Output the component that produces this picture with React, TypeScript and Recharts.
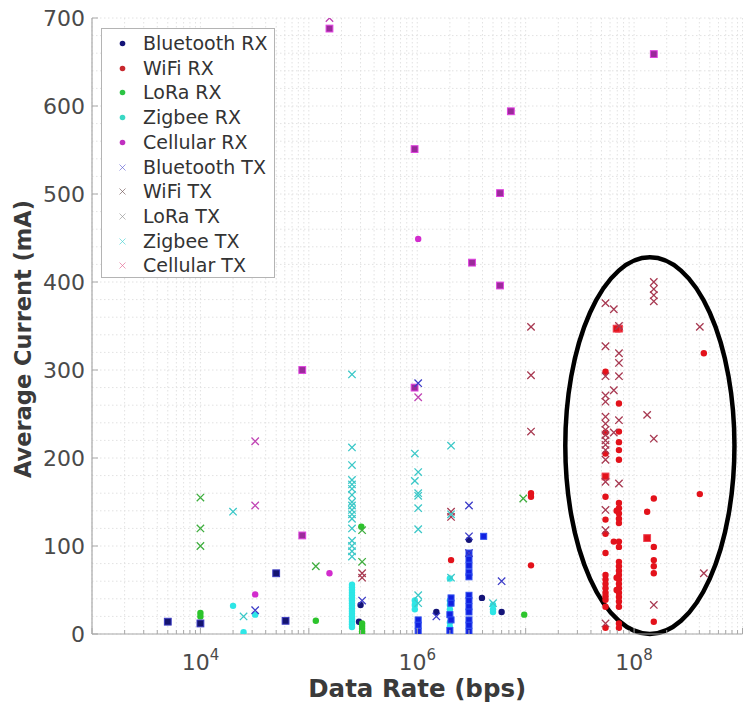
import React from 'react';
import { ScatterChart, Scatter, XAxis, YAxis, CartesianGrid, Legend, ReferenceArea } from 'recharts';

// ---------- axis values ----------
const xDecades = [3, 4, 5, 6, 7, 8];
const xMultipliers = [1, 2, 3, 4, 5, 6, 7, 8, 9];
const xLabeledTicks = [1e4, 1e6, 1e8];
const xDomain = [1e3, 1e9];
const yMajorTicks = [0, 100, 200, 300, 400, 500, 600, 700];
const yGridStep = 20;

// ---------- series (data rate in bps, average current in mA) ----------
const bluetoothRxDots = [
  { rate: 3e5, current: 33 }, { rate: 2.9e5, current: 14 }, { rate: 1.5e6, current: 25 },
  { rate: 6e6, current: 25 }, { rate: 3.95e6, current: 41 }, { rate: 3e6, current: 107 },
];
const bluetoothRxSquares = [
  { rate: 5e3, current: 14 }, { rate: 1e4, current: 12 }, { rate: 5e4, current: 69 }, { rate: 6.1e4, current: 15 },
];
const bluetoothRxBright = [
  { rate: 3e6, current: 92 }, { rate: 3e6, current: 85 }, { rate: 3e6, current: 78 }, { rate: 3e6, current: 70 },
  { rate: 3e6, current: 65 }, { rate: 3e6, current: 44 }, { rate: 3e6, current: 38 }, { rate: 3e6, current: 31 },
  { rate: 3e6, current: 25 }, { rate: 3e6, current: 16 }, { rate: 3e6, current: 10 }, { rate: 3e6, current: 3 },
  { rate: 2.05e6, current: 41 }, { rate: 2.05e6, current: 35 }, { rate: 2e6, current: 22 }, { rate: 2.05e6, current: 16 },
  { rate: 2e6, current: 4 }, { rate: 1.02e6, current: 16 }, { rate: 1.02e6, current: 10 }, { rate: 1.02e6, current: 3 },
  { rate: 4.1e6, current: 111 },
];
const wifiRx = [
  { rate: 2.05e6, current: 84 }, { rate: 1.12e7, current: 160 }, { rate: 1.12e7, current: 156 }, { rate: 1.12e7, current: 78 },
  { rate: 5.45e7, current: 298 }, { rate: 5.45e7, current: 156 }, { rate: 5.45e7, current: 130 }, { rate: 5.45e7, current: 92 },
  { rate: 5.45e7, current: 67 }, { rate: 5.45e7, current: 62 }, { rate: 5.45e7, current: 57 }, { rate: 5.45e7, current: 52 },
  { rate: 5.45e7, current: 47 }, { rate: 5.45e7, current: 43 }, { rate: 5.45e7, current: 39 }, { rate: 5.45e7, current: 31 },
  { rate: 5.45e7, current: 7 }, { rate: 5.45e7, current: 229 }, { rate: 5.45e7, current: 205 }, { rate: 5.45e7, current: 114 },
  { rate: 7.25e7, current: 262 }, { rate: 7.25e7, current: 230 }, { rate: 7.25e7, current: 218 }, { rate: 7.25e7, current: 209 },
  { rate: 7.25e7, current: 198 }, { rate: 7.25e7, current: 149 }, { rate: 7.25e7, current: 143 }, { rate: 7.25e7, current: 137 },
  { rate: 7.25e7, current: 131 }, { rate: 7.25e7, current: 126 }, { rate: 7.25e7, current: 105 }, { rate: 7.25e7, current: 99 },
  { rate: 7.25e7, current: 82 }, { rate: 7.25e7, current: 77 }, { rate: 7.25e7, current: 72 }, { rate: 7.25e7, current: 67 },
  { rate: 7.25e7, current: 62 }, { rate: 7.25e7, current: 57 }, { rate: 7.25e7, current: 52 }, { rate: 7.25e7, current: 47 },
  { rate: 7.25e7, current: 42 }, { rate: 7.25e7, current: 37 }, { rate: 7.25e7, current: 31 }, { rate: 7.25e7, current: 12 },
  { rate: 7.25e7, current: 7 }, { rate: 6.5e7, current: 105 }, { rate: 6.9e7, current: 64 }, { rate: 6.9e7, current: 50 },
  { rate: 6.9e7, current: 140 }, { rate: 1.32e8, current: 139 },
  { rate: 1.52e8, current: 154 }, { rate: 1.52e8, current: 99 }, { rate: 1.52e8, current: 84 }, { rate: 1.52e8, current: 77 },
  { rate: 1.52e8, current: 69 }, { rate: 1.52e8, current: 14 }, { rate: 4.04e8, current: 159 }, { rate: 4.4e8, current: 319 },
];
const wifiRxSquares = [
  { rate: 5.45e7, current: 179 }, { rate: 7.25e7, current: 347 }, { rate: 6.9e7, current: 347 }, { rate: 1.32e8, current: 109 },
];
const loraRx = [
  { rate: 1e4, current: 24 }, { rate: 1e4, current: 20 }, { rate: 1.16e5, current: 15 }, { rate: 3.05e5, current: 122 },
  { rate: 3.1e5, current: 12 }, { rate: 3.1e5, current: 9 }, { rate: 3.1e5, current: 6 }, { rate: 3.1e5, current: 3 },
  { rate: 3.1e5, current: 1 }, { rate: 9.7e6, current: 22 },
];
const zigbeeRx = [
  { rate: 2e4, current: 32 }, { rate: 2.5e4, current: 2 }, { rate: 3.2e4, current: 22 },
  { rate: 2.5e5, current: 56 }, { rate: 2.5e5, current: 53 }, { rate: 2.5e5, current: 50 }, { rate: 2.5e5, current: 47 },
  { rate: 2.5e5, current: 44 }, { rate: 2.5e5, current: 41 }, { rate: 2.5e5, current: 38 }, { rate: 2.5e5, current: 35 },
  { rate: 2.5e5, current: 32 }, { rate: 2.5e5, current: 29 }, { rate: 2.5e5, current: 26 }, { rate: 2.5e5, current: 23 },
  { rate: 2.5e5, current: 20 }, { rate: 2.5e5, current: 17 }, { rate: 2.5e5, current: 14 }, { rate: 2.5e5, current: 11 },
  { rate: 2.5e5, current: 8 }, { rate: 9.5e5, current: 38 }, { rate: 9.5e5, current: 33 }, { rate: 9.5e5, current: 28 },
  { rate: 2e6, current: 63 }, { rate: 2e6, current: 38 }, { rate: 2e6, current: 33 }, { rate: 2e6, current: 28 },
  { rate: 2e6, current: 13 }, { rate: 2e6, current: 8 }, { rate: 5e6, current: 33 }, { rate: 5e6, current: 28 },
  { rate: 5e6, current: 25 },
];
const cellularRxDots = [
  { rate: 1.02e6, current: 449 }, { rate: 3.2e4, current: 45 }, { rate: 1.55e5, current: 69 },
];
const cellularRxSquares = [
  { rate: 1.55e5, current: 688 }, { rate: 8.7e4, current: 300 }, { rate: 8.7e4, current: 112 }, { rate: 9.45e5, current: 280 },
  { rate: 9.45e5, current: 551 }, { rate: 7.3e6, current: 594 }, { rate: 5.8e6, current: 501 }, { rate: 3.2e6, current: 422 },
  { rate: 5.8e6, current: 396 }, { rate: 1.52e8, current: 659 },
];
const bluetoothTx = [
  { rate: 1.02e6, current: 285 }, { rate: 3e6, current: 146 }, { rate: 6e6, current: 60 }, { rate: 1.5e6, current: 20 },
  { rate: 3e6, current: 111 }, { rate: 3e6, current: 92 }, { rate: 3.2e4, current: 27 }, { rate: 3.1e5, current: 38 },
];
const wifiTx = [
  { rate: 3.1e5, current: 69 }, { rate: 3.1e5, current: 64 }, { rate: 2.05e6, current: 139 }, { rate: 2.05e6, current: 133 },
  { rate: 1.12e7, current: 349 }, { rate: 1.12e7, current: 294 }, { rate: 1.12e7, current: 230 },
  { rate: 5.45e7, current: 376 }, { rate: 5.45e7, current: 327 }, { rate: 5.45e7, current: 293 }, { rate: 5.45e7, current: 271 },
  { rate: 5.45e7, current: 264 }, { rate: 5.45e7, current: 247 }, { rate: 5.45e7, current: 239 }, { rate: 5.45e7, current: 232 },
  { rate: 5.45e7, current: 226 }, { rate: 5.45e7, current: 220 }, { rate: 5.45e7, current: 215 }, { rate: 5.45e7, current: 209 },
  { rate: 5.45e7, current: 198 }, { rate: 5.45e7, current: 173 }, { rate: 5.45e7, current: 141 }, { rate: 5.45e7, current: 118 },
  { rate: 5.45e7, current: 12 }, { rate: 6.5e7, current: 369 }, { rate: 6.5e7, current: 277 }, { rate: 6.5e7, current: 229 },
  { rate: 7.25e7, current: 350 }, { rate: 7.25e7, current: 319 }, { rate: 7.25e7, current: 308 }, { rate: 7.25e7, current: 293 },
  { rate: 7.25e7, current: 243 }, { rate: 7.25e7, current: 171 }, { rate: 1.32e8, current: 249 },
  { rate: 1.52e8, current: 400 }, { rate: 1.52e8, current: 392 }, { rate: 1.52e8, current: 385 }, { rate: 1.52e8, current: 378 },
  { rate: 1.52e8, current: 222 }, { rate: 1.52e8, current: 33 }, { rate: 4.04e8, current: 349 }, { rate: 4.4e8, current: 69 },
];
const loraTx = [
  { rate: 1e4, current: 155 }, { rate: 1e4, current: 120 }, { rate: 1e4, current: 100 }, { rate: 1.16e5, current: 77 },
  { rate: 3.1e5, current: 118 }, { rate: 3.1e5, current: 82 }, { rate: 9.5e6, current: 154 },
];
const zigbeeTx = [
  { rate: 2e4, current: 139 }, { rate: 2.5e4, current: 20 },
  { rate: 2.5e5, current: 295 }, { rate: 2.5e5, current: 212 }, { rate: 2.5e5, current: 192 }, { rate: 2.5e5, current: 175 },
  { rate: 2.5e5, current: 170 }, { rate: 2.5e5, current: 165 }, { rate: 2.5e5, current: 158 }, { rate: 2.5e5, current: 150 },
  { rate: 2.5e5, current: 146 }, { rate: 2.5e5, current: 141 }, { rate: 2.5e5, current: 136 }, { rate: 2.5e5, current: 131 },
  { rate: 2.5e5, current: 120 }, { rate: 2.5e5, current: 106 }, { rate: 2.5e5, current: 100 }, { rate: 2.5e5, current: 94 },
  { rate: 2.5e5, current: 88 }, { rate: 9.5e5, current: 205 }, { rate: 9.5e5, current: 174 }, { rate: 1.02e6, current: 184 },
  { rate: 1.02e6, current: 160 }, { rate: 1.02e6, current: 157 }, { rate: 1.02e6, current: 143 }, { rate: 1.02e6, current: 119 },
  { rate: 1.02e6, current: 44 }, { rate: 1.02e6, current: 35 }, { rate: 2.05e6, current: 214 }, { rate: 2.05e6, current: 136 },
  { rate: 2.05e6, current: 64 }, { rate: 5e6, current: 35 },
];
const cellularTx = [
  { rate: 1.55e5, current: 700 }, { rate: 3.2e4, current: 219 }, { rate: 3.2e4, current: 146 }, { rate: 1.02e6, current: 269 },
];

// highlighted region (data rate / current bounds)
const highlightRate = [2.32e7, 8.43e8];
const highlightCurrent = [0, 428];

const legendOrder = [
  'Bluetooth RX', 'WiFi RX', 'LoRa RX', 'Zigbee RX', 'Cellular RX',
  'Bluetooth TX', 'WiFi TX', 'LoRa TX', 'Zigbee TX', 'Cellular TX',
];

// ---------- derived tick arrays ----------
const xAllTicks: number[] = [];
xDecades.forEach((d) => xMultipliers.forEach((m) => xAllTicks.push(m * Math.pow(10, d))));
xAllTicks.push(1e9);
const yAllTicks: number[] = [];
for (let v = 0; v <= 700; v += yGridStep) yAllTicks.push(v);

// ---------- styles ----------
const FONT = '"DejaVu Sans", Verdana, sans-serif';
const AXIS_COLOR = '#a8a8a8';
const TEXT_COLOR = '#4a4a4a';

const dot = (color: string, r = 3.2) => (p: any) =>
  p.cx == null ? <g /> : <circle cx={p.cx} cy={p.cy} r={r} fill={color} />;
const square = (fill: string, edge: string, s = 3.4) => (p: any) =>
  p.cx == null ? <g /> : (
    <rect x={p.cx - s} y={p.cy - s} width={2 * s} height={2 * s} fill={fill} stroke={edge} strokeWidth={1} />
  );
const xMark = (color: string, s = 3.7) => (p: any) =>
  p.cx == null ? <g /> : (
    <path
      d={`M${p.cx - s},${p.cy - s}L${p.cx + s},${p.cy + s}M${p.cx - s},${p.cy + s}L${p.cx + s},${p.cy - s}`}
      stroke={color}
      strokeWidth={1.3}
      fill="none"
    />
  );

const XTick = (props: any) => {
  const { x, y, payload } = props;
  const v = payload.value as number;
  const lg = Math.log10(v);
  const exp = Math.round(lg);
  const isDecade = Math.abs(lg - exp) < 1e-6;
  const labeled = xLabeledTicks.some((t) => Math.abs(t - v) / t < 1e-6);
  return (
    <g>
      <line x1={x} x2={x} y1={y} y2={y - (isDecade ? 6 : 4)} stroke={AXIS_COLOR} strokeWidth={1} />
      {labeled && (
        <text x={x} y={y + 36} textAnchor="middle" fontSize={22} fill={TEXT_COLOR} fontFamily={FONT}>
          10
          <tspan dy={-10} fontSize={15}>{exp}</tspan>
        </text>
      )}
    </g>
  );
};

const YTick = (props: any) => {
  const { x, y, payload } = props;
  const v = payload.value as number;
  if (!yMajorTicks.includes(v)) return <g />;
  return (
    <g>
      <line x1={x} x2={x + 6} y1={y} y2={y} stroke={AXIS_COLOR} strokeWidth={1} />
      <text x={x - 7} y={y} textAnchor="end" dominantBaseline="central" fontSize={22} fill={TEXT_COLOR} fontFamily={FONT}>
        {v}
      </text>
    </g>
  );
};

const EllipseShape = (p: any) => (
  <ellipse
    cx={p.x + p.width / 2}
    cy={p.y + p.height / 2}
    rx={p.width / 2}
    ry={p.height / 2}
    fill="none"
    stroke="#000"
    strokeWidth={4.5}
  />
);

const LegendContent = (props: any) => {
  const payload = props.payload || [];
  const items = legendOrder
    .map((n) => payload.find((p: any) => p.value === n))
    .filter(Boolean);
  return (
    <div
      style={{
        width: 174,
        height: 250,
        border: '1px solid #b4b4b4',
        background: '#fff',
        boxSizing: 'border-box',
        position: 'relative',
        fontFamily: FONT,
      }}
    >
      {items.map((it: any, i: number) => {
        const isTx = String(it.value).endsWith('TX');
        const c = it.color;
        return (
          <div
            key={it.value}
            style={{
              position: 'absolute',
              left: 0,
              top: 2 + i * 24.7,
              height: 24,
              display: 'flex',
              alignItems: 'center',
              whiteSpace: 'nowrap',
            }}
          >
            <svg width={41} height={24} style={{ display: 'block' }}>
              {isTx ? (
                <path d="M17.5,9.5L23.5,15.5M17.5,15.5L23.5,9.5" stroke={c} strokeWidth={0.9} opacity={0.7} fill="none" />
              ) : (
                <circle cx={20.5} cy={12.5} r={2.8} fill={c} />
              )}
            </svg>
            <span style={{ fontSize: 19, color: '#333', lineHeight: '24px' }}>{it.value}</span>
          </div>
        );
      })}
    </div>
  );
};

const YLabel = (props: any) => {
  const cy = 339;
  return (
    <text
      x={31}
      y={cy}
      transform={`rotate(-90, 31, ${cy})`}
      textAnchor="middle"
      fontSize={22.5}
      fontWeight="bold"
      fill="#3a3a3a"
      fontFamily={FONT}
    >
      Average Current (mA)
    </text>
  );
};

const XLabel = (props: any) => {
  const vb = props.viewBox || { x: 0, y: 0, width: 0, height: 0 };
  const cx = vb.x + vb.width / 2;
  return (
    <text x={cx} y={697} textAnchor="middle" fontSize={24.5} fontWeight="bold" fill="#3a3a3a" fontFamily={FONT}>
      Data Rate (bps)
    </text>
  );
};

export default function App() {
  return (
    <div style={{ position: 'absolute', left: 0, top: 0, width: 743, height: 706, background: '#fff' }}>
      <ScatterChart
        width={743}
        height={706}
        margin={{ top: 18, right: 0.5, bottom: 0, left: 0 }}
        style={{ fontFamily: FONT }}
      >
        <CartesianGrid stroke="#e2e2e2" strokeDasharray="1.5 2.5" strokeWidth={1} />
        <XAxis
          dataKey="rate"
          type="number"
          scale="log"
          domain={xDomain}
          allowDataOverflow
          ticks={xAllTicks}
          interval={0}
          tick={<XTick />}
          tickLine={false}
          tickSize={0}
          tickMargin={0}
          height={72}
          axisLine={{ stroke: AXIS_COLOR, strokeWidth: 1.2 }}
          label={<XLabel />}
        />
        <YAxis
          dataKey="current"
          type="number"
          domain={[0, 700]}
          allowDataOverflow
          ticks={yAllTicks}
          interval={0}
          tick={<YTick />}
          tickLine={false}
          tickSize={0}
          tickMargin={0}
          width={92}
          axisLine={{ stroke: AXIS_COLOR, strokeWidth: 1.2 }}
          label={<YLabel />}
        />
        <Scatter name="Bluetooth RX" data={bluetoothRxDots} fill="#141478" shape={dot('#141478')} isAnimationActive={false} />
        <Scatter name="WiFi RX" data={wifiRx} fill="#c8282e" shape={dot('#e3121b')} isAnimationActive={false} />
        <Scatter name="LoRa RX" data={loraRx} fill="#2cc444" shape={dot('#2cc42c')} isAnimationActive={false} />
        <Scatter name="Zigbee RX" data={zigbeeRx} fill="#3ad8c4" shape={dot('#2ee6e6')} isAnimationActive={false} />
        <Scatter name="Cellular RX" data={cellularRxDots} fill="#c030c0" shape={dot('#d22ccd')} isAnimationActive={false} />
        <Scatter name="Bluetooth RX squares" legendType="none" data={bluetoothRxSquares} fill="#141478" shape={square('#141470', '#3a3ac0')} isAnimationActive={false} />
        <Scatter name="Bluetooth RX bright" legendType="none" data={bluetoothRxBright} fill="#1020e0" shape={square('#1020e0', '#3050f0', 3)} isAnimationActive={false} />
        <Scatter name="WiFi RX squares" legendType="none" data={wifiRxSquares} fill="#e3121b" shape={square('#e3121b', '#f04050')} isAnimationActive={false} />
        <Scatter name="Cellular RX squares" legendType="none" data={cellularRxSquares} fill="#a02aa0" shape={square('#9a2a9a', '#e040e0')} isAnimationActive={false} />
        <Scatter name="Bluetooth TX" data={bluetoothTx} fill="#5a5ad0" shape={xMark('#3c3cc8')} isAnimationActive={false} />
        <Scatter name="WiFi TX" data={wifiTx} fill="#6a5050" shape={xMark('#a83a52')} isAnimationActive={false} />
        <Scatter name="LoRa TX" data={loraTx} fill="#909090" shape={xMark('#3fae3f')} isAnimationActive={false} />
        <Scatter name="Zigbee TX" data={zigbeeTx} fill="#40d0d0" shape={xMark('#3cc8c8')} isAnimationActive={false} />
        <Scatter name="Cellular TX" data={cellularTx} fill="#e0608c" shape={xMark('#c044b4')} isAnimationActive={false} />
        <ReferenceArea
          x1={highlightRate[0]}
          x2={highlightRate[1]}
          y1={highlightCurrent[0]}
          y2={highlightCurrent[1]}
          shape={EllipseShape}
          ifOverflow="visible"
        />
        <Legend
          content={<LegendContent />}
          layout="vertical"
          align="center"
          verticalAlign="middle"
          wrapperStyle={{ left: 101, top: 28, width: 174, height: 250 }}
        />
      </ScatterChart>
    </div>
  );
}
